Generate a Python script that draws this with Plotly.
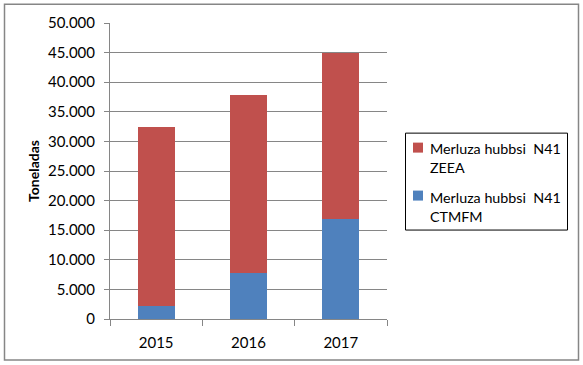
import plotly.graph_objects as go

years = ["2015", "2016", "2017"]
ctmfm = [2150, 7850, 16850]
zeea = [30300, 30000, 28150]
series_names = ["Merluza hubbsi  N41<br>CTMFM", "Merluza hubbsi  N41<br>ZEEA"]
series_colors = ["#4F81BD", "#C0504D"]
y_ticks = [0, 5000, 10000, 15000, 20000, 25000, 30000, 35000, 40000, 45000, 50000]
y_labels = ["0", "5.000", "10.000", "15.000", "20.000", "25.000", "30.000", "35.000", "40.000", "45.000", "50.000"]

FONT = "Lato, Carlito, 'Liberation Sans', sans-serif"

fig = go.Figure()
for vals, name, col in [(ctmfm, series_names[0], series_colors[0]), (zeea, series_names[1], series_colors[1])]:
    fig.add_trace(go.Bar(x=years, y=vals, name=name, marker=dict(color=col, line=dict(width=0)),
                         width=0.4, showlegend=False))

L, R, T, B = 110, 387, 23.3, 319.5
W, H = R - L, B - T

def px(x):
    return (x - L) / W

def py(y):
    return (B - y) / H

shapes = [
    # outer chart border
    dict(type="rect", xref="paper", yref="paper",
         x0=px(4.5), x1=px(578.5), y0=py(360.5), y1=py(4.5),
         line=dict(color="#868686", width=1.5), layer="below"),
    # legend box
    dict(type="rect", xref="paper", yref="paper",
         x0=px(405.5), x1=px(567.5), y0=py(230.5), y1=py(133.5),
         line=dict(color="#000000", width=1), fillcolor="white", layer="above"),
]
annotations = []
# legend entries: ZEEA on top, CTMFM below
legend_rows = [(series_names[1], series_colors[1], 149, 158), (series_names[0], series_colors[0], 197, 207)]
for name, col, line1, center in legend_rows:
    shapes.append(dict(type="rect", xref="paper", yref="paper",
                       x0=px(413), x1=px(423), y0=py(line1 + 4), y1=py(line1 - 6),
                       line=dict(width=0), fillcolor=col, layer="above"))
    annotations.append(dict(text=name, xref="paper", yref="paper", x=px(428), y=py(center),
                            xanchor="left", yanchor="middle", align="left", showarrow=False,
                            font=dict(family=FONT, size=14.3, color="#000000")))

fig.update_layout(
    width=583, height=365,
    margin=dict(l=L, r=583 - R, t=T, b=365 - B, pad=0, autoexpand=False),
    paper_bgcolor="white", plot_bgcolor="white",
    barmode="stack",
    font=dict(family=FONT, size=15, color="#000000"),
    showlegend=False,
    xaxis=dict(
        type="category", showgrid=False, showline=True, linecolor="#868686", linewidth=1,
        ticks="outside", tickson="boundaries", ticklen=6, tickcolor="#868686",
        ticklabelstandoff=10,
        tickfont=dict(family=FONT, size=15), fixedrange=True,
    ),
    yaxis=dict(
        range=[0, 50000], tickvals=y_ticks, ticktext=y_labels,
        showgrid=True, gridcolor="#868686", gridwidth=1,
        showline=True, linecolor="#868686", linewidth=1,
        ticks="outside", ticklen=5, tickcolor="#868686",
        ticklabelstandoff=6,
        tickfont=dict(family=FONT, size=15),
        title=dict(text="<b>Toneladas</b>", font=dict(family=FONT, size=14), standoff=5),
        zeroline=False, fixedrange=True,
    ),
    shapes=shapes,
    annotations=annotations,
)

fig.write_html("out.html", config={"displayModeBar": False},
               post_script="document.body.style.margin='0';document.body.style.overflow='hidden';")
